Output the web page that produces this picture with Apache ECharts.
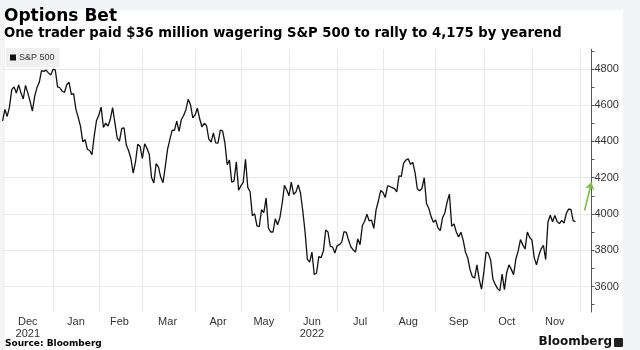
<!DOCTYPE html>
<html>
<head>
<meta charset="utf-8">
<script src="https://cdn.jsdelivr.net/npm/echarts@6/dist/echarts.min.js"></script>
<style>
  html, body { margin: 0; padding: 0; background: #f3f4f6; }
  .wrap { position: relative; width: 640px; height: 350px; overflow: hidden; }
  .panel { position: absolute; left: 5px; top: 10px; width: 618px; height: 340px; background: #fff; }
  .chart { position: absolute; left: 0; top: 0; width: 640px; height: 350px; }
</style>
</head>
<body>
<div class="wrap">
  <div class="panel"></div>
  <div class="chart" id="chart"></div>
</div>
<script>
// S&P 500 daily closes, one array per month
const dec21 = [4513, 4577, 4538, 4591, 4686, 4701, 4667, 4712, 4668, 4634, 4709, 4668, 4621, 4568, 4649, 4697, 4726, 4791, 4786, 4793, 4778, 4766];
const jan22 = [4797, 4794, 4701, 4696, 4677, 4670, 4713, 4726, 4660, 4663, 4577, 4533, 4483, 4398, 4410, 4357, 4350, 4327, 4432, 4516];
const feb22 = [4546, 4589, 4477, 4501, 4484, 4522, 4587, 4504, 4419, 4402, 4472, 4475, 4380, 4349, 4305, 4226, 4288, 4385, 4374];
const mar22 = [4306, 4387, 4363, 4329, 4201, 4171, 4278, 4260, 4204, 4173, 4262, 4358, 4412, 4463, 4461, 4512, 4456, 4520, 4543, 4575, 4632, 4602, 4530];
const apr22 = [4546, 4583, 4525, 4481, 4500, 4488, 4413, 4397, 4447, 4392, 4391, 4463, 4459, 4394, 4272, 4297, 4175, 4183, 4288, 4132];
const may22 = [4155, 4175, 4301, 4147, 4123, 3991, 4001, 3935, 3930, 4024, 4008, 4088, 3923, 3901, 3901, 3974, 3941, 3979, 4058, 4158, 4132];
const jun22 = [4101, 4176, 4109, 4121, 4161, 4116, 4018, 3901, 3750, 3735, 3790, 3667, 3675, 3765, 3760, 3796, 3912, 3901, 3822, 3819, 3785];
const jul22 = [3825, 3831, 3845, 3903, 3899, 3855, 3819, 3802, 3790, 3863, 3831, 3937, 3960, 3999, 3962, 3967, 3921, 4024, 4072, 4130];
const aug22 = [4119, 4091, 4155, 4152, 4145, 4140, 4122, 4210, 4208, 4280, 4297, 4305, 4275, 4284, 4228, 4138, 4128, 4141, 4200, 4058, 4031, 3986, 3955];
const sep22 = [3967, 3924, 3909, 3980, 4006, 4067, 4110, 3932, 3946, 3901, 3873, 3900, 3856, 3790, 3758, 3693, 3655, 3647, 3720, 3640, 3586];
const oct22 = [3678, 3791, 3783, 3745, 3640, 3612, 3589, 3577, 3669, 3583, 3678, 3720, 3695, 3666, 3752, 3797, 3859, 3830, 3807, 3901, 3872];
const nov22 = [3856, 3760, 3720, 3771, 3807, 3828, 3749, 3956, 3993, 3957, 3992, 3959, 3947, 3965, 3950, 4003, 4027, 4026, 3964, 3958];

// trading calendar
const firstDay = "2021-12-01";
const lastDay = "2022-12-08"; // axis runs a few sessions past the data
const holidays = ["2021-12-24", "2022-01-17", "2022-02-21", "2022-04-15", "2022-05-30",
  "2022-06-20", "2022-07-04", "2022-09-05", "2022-11-24"];
const labelMonths = ["2021-12", "2022-01", "2022-02", "2022-03", "2022-04", "2022-05",
  "2022-06", "2022-07", "2022-08", "2022-09", "2022-10", "2022-11"];
const monthNames = ["Jan", "Feb", "Mar", "Apr", "May", "Jun", "Jul", "Aug", "Sep", "Oct", "Nov", "Dec"];
const yearShownOn = ["2021-12", "2022-06"];

// y axis ticks
const yTicks = [3500, 3600, 3700, 3800, 3900, 4000, 4100, 4200, 4300, 4400, 4500, 4600, 4700, 4800, 4900];
const yLabels = [3600, 3800, 4000, 4200, 4400, 4600, 4800];

// green arrow towards the 4,175 target
const arrowDates = ["2022-12-05", "2022-12-08"];
const arrowValues = [4020, 4175];

const spx = [].concat(dec21, jan22, feb22, mar22, apr22, may22, jun22, jul22, aug22, sep22, oct22, nov22);

const dates = [];
for (let t = Date.parse(firstDay); t <= Date.parse(lastDay); t += 86400000) {
  const d = new Date(t);
  const wd = d.getUTCDay();
  const s = d.toISOString().slice(0, 10);
  if (wd === 0 || wd === 6 || holidays.includes(s)) continue;
  dates.push(s);
}

// first session of each month -> vertical grid line, middle session -> label
const monthStart = {};
const monthMid = {};
labelMonths.forEach((m) => {
  const idx = dates.map((d, i) => (d.slice(0, 7) === m ? i : -1)).filter((i) => i >= 0);
  monthMid[idx[Math.floor(idx.length / 2)]] = m;
});
dates.forEach((d, i) => {
  if (i > 0 && d.slice(0, 7) !== dates[i - 1].slice(0, 7)) monthStart[i] = true;
});

const mychart = echarts.init(document.getElementById("chart"));
mychart.setOption({
  animation: false,
  textStyle: { fontFamily: "Liberation Sans" },
  title: {
    text: "Options Bet",
    subtext: "One trader paid $36 million wagering S&P 500 to rally to 4,175 by yearend",
    left: 4,
    top: 8,
    padding: 0,
    itemGap: 2,
    textStyle: { fontFamily: "DejaVu Sans", fontSize: 17, fontWeight: "bold", color: "#000" },
    subtextStyle: { fontFamily: "DejaVu Sans", fontSize: 13.2, fontWeight: "bold", color: "#000" },
  },
  legend: {
    left: 6,
    top: 48,
    padding: [5, 5, 5, 4],
    backgroundColor: "#efefef",
    icon: "rect",
    itemWidth: 6,
    itemHeight: 6,
    itemGap: 4,
    textStyle: { fontSize: 9, color: "#333", padding: [0, 0, 0, -2] },
    data: ["S&P 500"],
  },
  grid: {
    left: 2.6,
    right: 48.5,
    top: 49.3,
    bottom: 38,
    containLabel: false,
    outerBoundsMode: "none",
  },
  xAxis: {
    type: "category",
    boundaryGap: false,
    data: dates,
    axisLine: { show: false },
    axisTick: { show: false },
    axisLabel: {
      interval: (i) => monthMid[i] !== undefined,
      margin: 4,
      fontSize: 11,
      color: "#333",
      lineHeight: 12,
      formatter: (v) => {
        const m = v.slice(0, 7);
        const name = monthNames[parseInt(v.slice(5, 7), 10) - 1];
        return yearShownOn.includes(m) ? name + "\n" + v.slice(0, 4) : name;
      },
    },
    splitLine: {
      show: true,
      interval: (i) => monthStart[i] === true,
      lineStyle: { color: "#e9e9e9", width: 1 },
    },
  },
  yAxis: [
    {
      type: "value",
      position: "right",
      min: 3460,
      max: 4908,
      axisLine: { show: true, lineStyle: { color: "#555", width: 1 } },
      axisTick: { show: true, length: 3, customValues: yTicks, lineStyle: { color: "#555" } },
      axisLabel: {
        customValues: yLabels,
        margin: 3,
        fontSize: 11,
        color: "#333",
        formatter: (v) => String(v),
      },
      splitLine: { show: false },
    },
    {
      type: "value",
      position: "right",
      min: 3460,
      max: 4908,
      axisLine: { show: false },
      axisTick: { show: false, customValues: yLabels },
      axisLabel: { show: false },
      splitLine: { show: true, lineStyle: { color: "#e9e9e9", width: 1 } },
    },
  ],
  series: [
    {
      name: "S&P 500",
      type: "line",
      data: spx,
      yAxisIndex: 0,
      showSymbol: false,
      clip: false,
      color: "#111",
      lineStyle: { color: "#111", width: 1.3 },
      markLine: {
        silent: true,
        symbol: ["none", "arrow"],
        symbolSize: 7,
        label: { show: false },
        lineStyle: { color: "#74bf3b", width: 1.6, type: "solid" },
        data: [
          [
            { coord: [arrowDates[0], arrowValues[0]] },
            { coord: [arrowDates[1], arrowValues[1]] },
          ],
        ],
      },
    },
  ],
  graphic: [
    {
      type: "text",
      left: 5,
      top: 339,
      style: { text: "Source: Bloomberg", font: "bold 9px 'DejaVu Sans'", fill: "#000" },
    },
    {
      type: "text",
      right: 28,
      top: 336,
      style: { text: "Bloomberg", font: "bold 12px 'DejaVu Sans'", fill: "#111" },
    },
    {
      type: "rect",
      right: 17,
      top: 338,
      shape: { width: 9, height: 9, r: 1 },
      style: { fill: "#222" },
    },
  ],
});
</script>
</body>
</html>
